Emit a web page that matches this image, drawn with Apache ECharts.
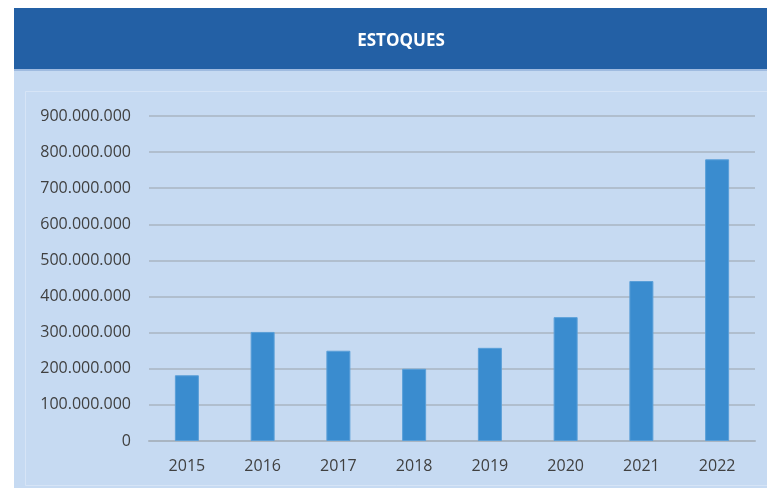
<!DOCTYPE html>
<html>
<head>
<meta charset="utf-8">
<script src="https://cdn.jsdelivr.net/npm/echarts@6/dist/echarts.min.js"></script>
<style>
  html, body { margin: 0; padding: 0; background: #fff; }
  #chart { width: 767px; height: 488px; }
</style>
</head>
<body>
<div id="chart"></div>
<script>
const years = ['2015', '2016', '2017', '2018', '2019', '2020', '2021', '2022']
const estoques = [182000000, 302000000, 250000000, 200000000, 258000000, 343000000, 443000000, 780000000]
const yTicks = { min: 0, max: 900000000, interval: 100000000 }

function fmt(v) {
  return String(v).replace(/\B(?=(\d{3})+(?!\d))/g, '.')
}

const myChart = echarts.init(document.getElementById('chart'))

const option = {
  animation: false,
  textStyle: { fontFamily: 'Open Sans, sans-serif' },
  graphic: [
    { type: 'rect', shape: { x: 14, y: 70, width: 760, height: 420 }, style: { fill: '#c6daf2' }, z: -10 },
    { type: 'rect', shape: { x: 25.5, y: 91.5, width: 750, height: 394 }, style: { fill: 'none', stroke: '#d6e4f6', lineWidth: 1 }, z: -9 },
    { type: 'rect', shape: { x: 14, y: 8, width: 760, height: 62 }, style: { fill: '#2360a5' }, z: -8 },
    { type: 'rect', shape: { x: 14, y: 69, width: 760, height: 2 }, style: { fill: '#9fbbe0' }, z: -7 },
    {
      type: 'text', x: 401, y: 41,
      style: { text: 'ESTOQUES', fill: '#ffffff', font: 'bold 17px "Open Sans", sans-serif', textAlign: 'center', textVerticalAlign: 'middle' }
    }
  ],
  grid: { left: 149, right: 12, top: 116, bottom: 47 },
  xAxis: {
    type: 'category',
    data: years,
    axisLine: { lineStyle: { color: '#a9b5c2', width: 2 } },
    axisTick: { show: false },
    axisLabel: { color: '#404040', fontSize: 16, margin: 17 }
  },
  yAxis: {
    type: 'value',
    min: yTicks.min,
    max: yTicks.max,
    interval: yTicks.interval,
    axisLine: { show: false },
    axisTick: { show: false },
    axisLabel: { color: '#404040', fontSize: 16, margin: 18, formatter: fmt },
    splitLine: { lineStyle: { color: '#a9b5c2', width: 1.5 } }
  },
  series: [
    {
      type: 'bar',
      data: estoques,
      barWidth: 24,
      itemStyle: { color: '#3a8ccf', borderColor: '#5a9fd8', borderWidth: 1 }
    }
  ]
}

myChart.setOption(option)
</script>
</body>
</html>
